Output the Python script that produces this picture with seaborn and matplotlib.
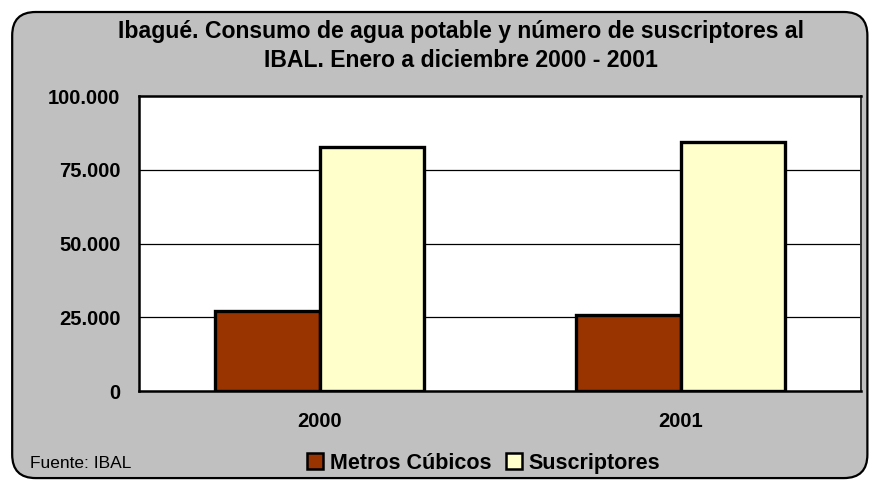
import matplotlib
matplotlib.use("Agg")
import matplotlib.pyplot as plt
from matplotlib.patches import FancyBboxPatch, Patch
from matplotlib.ticker import FuncFormatter, FixedLocator
import seaborn as sns
import pandas as pd

# Data
years = ["2000", "2001"]
metros_cubicos = [27000, 25700]
suscriptores = [82800, 84500]
series_names = ["Metros Cúbicos", "Suscriptores"]
colors = ["#993300", "#FFFFCC"]
y_ticks = [0, 25000, 50000, 75000, 100000]

df = pd.DataFrame({
    "Año": years * 2,
    "Serie": [series_names[0]] * len(years) + [series_names[1]] * len(years),
    "Valor": metros_cubicos + suscriptores,
})

sns.set_theme(style="white")
plt.rcParams["font.family"] = ["Liberation Sans", "DejaVu Sans"]
plt.rcParams["text.color"] = "black"
plt.rcParams["xtick.color"] = "black"
plt.rcParams["ytick.color"] = "black"

fig = plt.figure(figsize=(8.7, 4.8), dpi=100)
fig.patch.set_facecolor("white")

# Rounded grey chart frame behind everything
frame = FancyBboxPatch((0.014, 0.004), 0.983, 0.971,
                       boxstyle="round,pad=0,rounding_size=0.027",
                       transform=fig.transFigure, facecolor="#C0C0C0",
                       edgecolor="black", linewidth=1.6, zorder=-5,
                       mutation_aspect=870 / 480)
fig.patches.append(frame)

ax = fig.add_axes([0.1598, 0.1854, 0.8299, 0.6146])
ax.set_zorder(2)
ax.set_facecolor("white")

sns.barplot(data=df, x="Año", y="Valor", hue="Serie", palette=colors,
            saturation=1, width=0.58, edgecolor="black", linewidth=2.4,
            ax=ax, legend=False, zorder=3)

ax.set_ylim(0, 100000)
ax.set_xlim(-0.5, 1.5)
ax.yaxis.set_major_locator(FixedLocator(y_ticks))
ax.yaxis.set_major_formatter(
    FuncFormatter(lambda v, p: f"{int(v):,}".replace(",", ".")))
for v in y_ticks[1:-1]:
    ax.axhline(v, color="black", linewidth=0.9, zorder=1)

# Category boundaries as x ticks, labels centred below each group
ax.set_xticks([-0.5, 0.5, 1.5], minor=False)
ax.set_xticklabels(["", "", ""])
ax.set_xticks([0, 1], minor=True)
ax.set_xticklabels(years, minor=True, fontsize=14.5, fontweight="bold")
ax.tick_params(axis="x", which="minor", length=0, pad=15)
ax.tick_params(axis="x", which="major", direction="inout", length=9,
               width=1.2, color="black")
ax.tick_params(axis="y", direction="inout", length=9, width=1.2,
               color="black", labelsize=14.5, pad=9)
for lab in ax.get_yticklabels():
    lab.set_fontweight("bold")

ax.set_xlabel("")
ax.set_ylabel("")
for side in ["left", "bottom", "top"]:
    ax.spines[side].set_color("black")
    ax.spines[side].set_linewidth(1.8)
ax.spines["right"].set_color("#333333")
ax.spines["right"].set_linewidth(1.4)

fig.text(0.530, 0.935, "Ibagué. Consumo de agua potable y número de suscriptores al",
         ha="center", va="center", fontsize=16.6, fontweight="bold")
fig.text(0.530, 0.873, "IBAL. Enero a diciembre 2000 - 2001",
         ha="center", va="center", fontsize=16.6, fontweight="bold")

fig.text(0.034, 0.035, "Fuente: IBAL", ha="left", va="center", fontsize=12.5)

handles = [Patch(facecolor=c, edgecolor="black", linewidth=1.8) for c in colors]
leg = fig.legend(handles, series_names, loc="center", bbox_to_anchor=(0.556, 0.035),
                 ncol=2, frameon=False, handlelength=0.75,
                 handleheight=0.75, handletextpad=0.3, columnspacing=0.7,
                 prop={"weight": "bold", "size": 15.5})

fig.savefig("out.png", dpi=100, facecolor=fig.get_facecolor())
